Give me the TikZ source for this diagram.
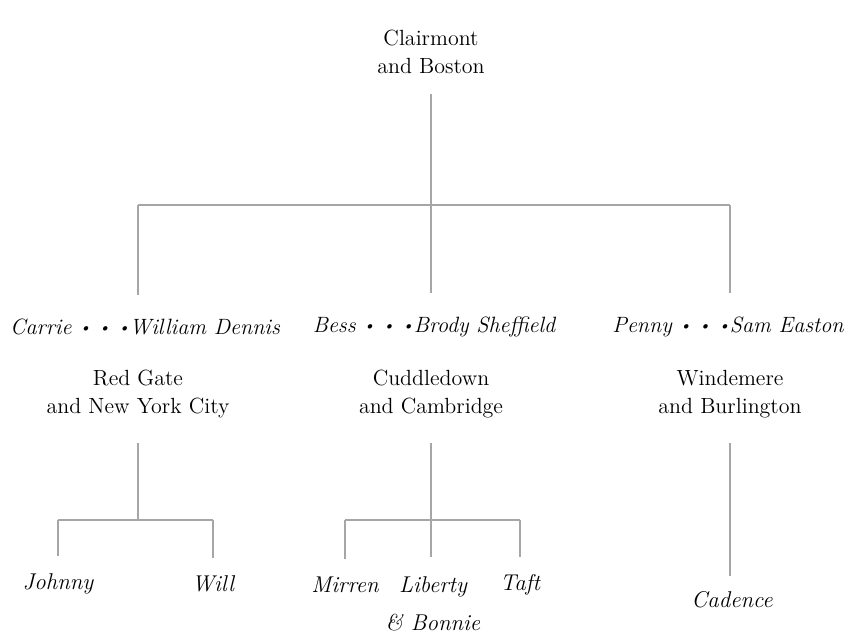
\documentclass[tikz,border=0pt]{standalone}
\usepackage{amsmath}
\usepackage{amssymb}
\usepackage{tikz}

\newcommand{\bul}{\raisebox{0.25ex}{\scalebox{0.7}{\textbullet}}}

\tikzset{
conn/.style={draw=gray!70, line width=0.6pt},
place/.style={align=center, inner sep=0pt, font=\fontsize{12.5}{16}\selectfont},
couple/.style={inner sep=0pt, font=\fontsize{12.6}{16}\selectfont\itshape},
kid/.style={align=center, inner sep=0pt, font=\fontsize{13}{22}\selectfont\itshape}
}

\begin{document}
\begin{tikzpicture}[x=0.02cm, y=-0.02cm]
\useasboundingbox (0, 0) rectangle (850, 643);

\node[place] (root) at (431, 52) {Clairmont\\and Boston};

\node[couple] (couple1) at (145, 327) {Carrie \bul\ \bul\ \bul William Dennis};
\node[couple] (couple2) at (434, 327) {Bess \bul\ \bul\ \bul Brody Sheffield};
\node[couple] (couple3) at (728, 327) {Penny \bul\ \bul\ \bul Sam Easton};

\node[place] (place1) at (138, 394) {Red Gate\\and New York City};
\node[place] (place2) at (431, 394) {Cuddledown\\and Cambridge};
\node[place] (place3) at (730, 394) {Windemere\\and Burlington};

\node[kid] (johnny) at (58, 584) {Johnny};
\node[kid] (will) at (213, 584) {Will};
\node[kid] (mirren) at (345, 585) {Mirren};
\node[kid, anchor=north] (liberty) at (433, 576) {Liberty\\\& Bonnie};
\node[kid] (taft) at (520, 585) {Taft};
\node[kid] (cadence) at (732, 600) {Cadence};

\coordinate (bar) at (431, 205);
\coordinate (bar1) at (138, 520);
\coordinate (bar2) at (431, 520);

% top level
\draw[conn, shorten <=0.4cm] (root) -- (bar);
\draw[conn] (bar -| place1) -- (bar -| place3);
\foreach \n in {1,2,3}
  \draw[conn, shorten >=0.48cm] (bar -| place\n) -- (couple\n.north -| place\n);

% children
\draw[conn, shorten <=0.5cm] (place1) -- (bar1);
\draw[conn] (bar1 -| johnny) -- (bar1 -| will);
\draw[conn, shorten >=0.35cm] (bar1 -| johnny) -- (johnny);
\draw[conn, shorten >=0.35cm] (bar1 -| will) -- (will);

\draw[conn, shorten <=0.5cm] (place2) -- (bar2);
\draw[conn] (bar2 -| mirren) -- (bar2 -| taft);
\draw[conn, shorten >=0.35cm] (bar2 -| mirren) -- (mirren);
\draw[conn, shorten >=0.38cm] (bar2) -- (bar2 |- liberty.north);
\draw[conn, shorten >=0.35cm] (bar2 -| taft) -- (taft);

\draw[conn, shorten <=0.5cm, shorten >=0.3cm] (place3) -- (place3 |- cadence.north);
\end{tikzpicture}
\end{document}
